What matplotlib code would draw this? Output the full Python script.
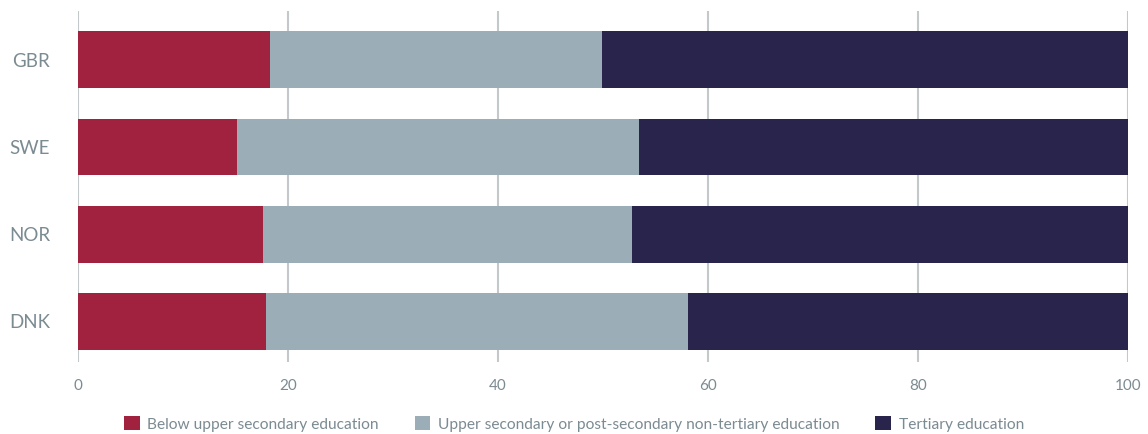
import matplotlib.pyplot as plt
from matplotlib.patches import Patch

plt.rcParams['font.family'] = ['Lato', 'DejaVu Sans']

countries = ['GBR', 'SWE', 'NOR', 'DNK']
below_upper_secondary = [18.3, 15.2, 17.6, 17.9]
upper_secondary = [31.6, 38.2, 35.2, 40.2]
tertiary = [50.1, 46.6, 47.2, 41.9]

series_names = ['Below upper secondary education',
                'Upper secondary or post-secondary non-tertiary education',
                'Tertiary education']
series_colors = ['#A0223F', '#9BADB7', '#29244C']
text_color = '#7B8B92'

fig = plt.figure(figsize=(11.48, 4.34), dpi=100)
ax = fig.add_axes([77.7 / 1148, 1 - 362 / 434, (1128.3 - 77.7) / 1148, (362 - 11) / 434])

ypos = list(range(len(countries)))
left = [0] * len(countries)
for vals, color in zip([below_upper_secondary, upper_secondary, tertiary], series_colors):
    ax.barh(ypos, vals, left=left, height=0.655, color=color, zorder=2)
    left = [a + b for a, b in zip(left, vals)]

ax.set_xlim(0, 100)
ax.set_ylim(3.471, -0.563)
ax.set_xticks(range(0, 101, 20))
ax.set_yticks(ypos)
ax.set_yticklabels(countries)

ax.grid(axis='x', color='#C3C8CA', linewidth=1.5, zorder=0)
for s in ax.spines.values():
    s.set_visible(False)
ax.tick_params(axis='both', length=0, colors=text_color)
ax.tick_params(axis='y', labelsize=13.5, pad=20)
ax.tick_params(axis='x', labelsize=11, pad=12)

handles = [Patch(facecolor=c, edgecolor='none') for c in series_colors]
fig.legend(handles, series_names, loc='center', bbox_to_anchor=(0.5, 1 - 424 / 434),
           ncol=3, frameon=False, fontsize=11.2, labelcolor=text_color,
           handlelength=1.0, handleheight=1.0, handletextpad=0.5, columnspacing=2.3)

fig.savefig('out.png', dpi=100)
